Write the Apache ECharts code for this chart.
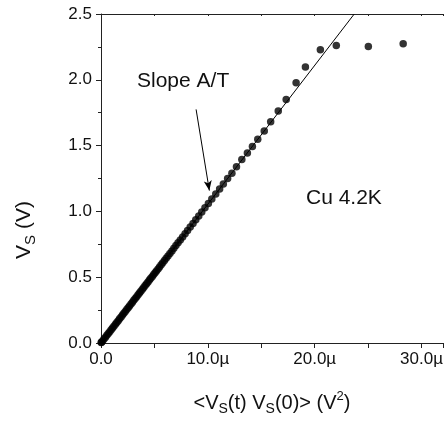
<!DOCTYPE html>
<html><head><meta charset="utf-8">
<script src="https://cdn.jsdelivr.net/npm/echarts@6/dist/echarts.min.js"></script>
<style>html,body{margin:0;padding:0;background:#fff}#c{width:446px;height:421px}</style>
</head><body><div id="c"></div>
<script>
// x in units of µV² (displayed with µ suffix), y in V
const xVals = [0.02,0.05,0.15,0.28,0.42,0.55,0.68,0.82,0.95,1.08,1.21,1.35,1.48,1.61,1.74,1.88,2.01,2.14,2.27,2.41,2.54,2.67,2.81,2.94,3.07,3.20,3.34,3.47,3.60,3.73,3.87,4.00,4.13,4.27,4.40,4.53,4.66,4.80,4.93,5.06,5.19,5.34,5.48,5.63,5.78,5.94,6.10,6.27,6.45,6.64,6.82,7.01,7.21,7.42,7.64,7.87,8.10,8.35,8.61,8.87,9.15,9.43,9.73,10.05,10.37,10.74,11.10,11.45,11.85,12.25,12.68,13.18,13.70,14.17,14.67,15.28,15.88,16.59,17.33,18.26,19.13,20.53,22.02,25.02,28.28];
const yVals = [0.003,0.005,0.016,0.030,0.044,0.058,0.072,0.086,0.100,0.114,0.128,0.142,0.156,0.170,0.184,0.198,0.212,0.226,0.240,0.254,0.268,0.282,0.296,0.310,0.324,0.338,0.352,0.366,0.380,0.394,0.408,0.422,0.436,0.450,0.464,0.478,0.492,0.506,0.520,0.534,0.548,0.563,0.578,0.594,0.610,0.627,0.644,0.662,0.681,0.700,0.720,0.740,0.761,0.783,0.806,0.830,0.855,0.881,0.908,0.936,0.965,0.995,1.027,1.060,1.095,1.133,1.171,1.208,1.250,1.290,1.340,1.394,1.443,1.493,1.548,1.611,1.682,1.762,1.850,1.977,2.097,2.228,2.261,2.253,2.273];
const fitX = [0, 23.7];
const fitY = [0, 2.5];
const arrowFrom = [8.90, 1.775];
const arrowTo = [10.14, 1.158];
const xTickLabels = {0:'0.0', 10:'10.0µ', 20:'20.0µ', 30:'30.0µ'};

const axisColor = '#222';
const font = 'Liberation Sans, Arial, sans-serif';
const chart = echarts.init(document.getElementById('c'));
chart.setOption({
  animation: false,
  grid: {left: 101, top: 14, right: 1, bottom: 76},
  xAxis: [{
    type: 'value', min: 0, max: 32, interval: 10,
    axisLine: {lineStyle: {color: axisColor, width: 1}},
    axisTick: {show: true, length: 5, lineStyle: {color: axisColor}},
    minorTick: {show: true, splitNumber: 2, length: 5, lineStyle: {color: axisColor}},
    splitLine: {show: false},
    axisLabel: {color: '#111', fontSize: 17, fontFamily: font, margin: 8,
      formatter: v => xTickLabels[v] !== undefined ? xTickLabels[v] : '', showMaxLabel: false},
    name: '<V{sub|S}(t) V{sub|S}(0)> (V{sup|2})', nameLocation: 'middle', nameGap: 47,
    nameTextStyle: {color: '#111', fontSize: 20, fontFamily: font, lineHeight: 26,
      rich: {sub: {fontSize: 14, lineHeight: 14, verticalAlign: 'bottom', fontFamily: font, color: '#111'},
             sup: {fontSize: 13, lineHeight: 13, verticalAlign: 'top', fontFamily: font, color: '#111'}}}
  }, {
    type: 'value', position: 'top', min: 0, max: 32, interval: 5,
    axisLine: {show: true, lineStyle: {color: axisColor}},
    axisTick: {show: true, inside: true, length: 2, lineStyle: {color: axisColor}},
    axisLabel: {show: false}, splitLine: {show: false}
  }],
  yAxis: [{
    type: 'value', min: 0, max: 2.5, interval: 0.5,
    axisLine: {show: true, lineStyle: {color: axisColor}},
    axisTick: {show: true, length: 5, lineStyle: {color: axisColor}},
    minorTick: {show: true, splitNumber: 2, length: 3, lineStyle: {color: axisColor}},
    splitLine: {show: false},
    axisLabel: {color: '#111', fontSize: 17, fontFamily: font, margin: 9, formatter: v => v.toFixed(1)}
  }],
  graphic: [
    {type: 'text', x: 24, y: 230, rotation: Math.PI / 2,
     style: {text: 'V{sub|S} (V)', fill: '#111', font: '21px ' + font, align: 'center', verticalAlign: 'middle',
       lineHeight: 28,
       rich: {sub: {fontSize: 15, lineHeight: 15, verticalAlign: 'bottom', fontFamily: font, fill: '#111'}}}},
    {type: 'text', left: 137, top: 71, style: {text: 'Slope A/T', fill: '#111', font: '21px ' + font}},
    {type: 'text', left: 306, top: 188, style: {text: 'Cu 4.2K', fill: '#111', font: '21px ' + font}}
  ],
  series: [{
    type: 'scatter', symbol: 'circle', symbolSize: 7.5,
    itemStyle: {color: '#000'},
    data: xVals.map((x, i) => [x, yVals[i]]),
    z: 3
  }, {
    type: 'line', showSymbol: false, symbol: 'none',
    lineStyle: {color: '#000', width: 1},
    data: fitX.map((x, i) => [x, fitY[i]]),
    markLine: {
      silent: true, symbol: ['none', 'arrow'], symbolSize: [6, 10],
      lineStyle: {color: '#000', width: 1, type: 'solid'}, label: {show: false},
      data: [[{coord: arrowFrom}, {coord: arrowTo}]]
    },
    z: 2
  }]
});
</script></body></html>
